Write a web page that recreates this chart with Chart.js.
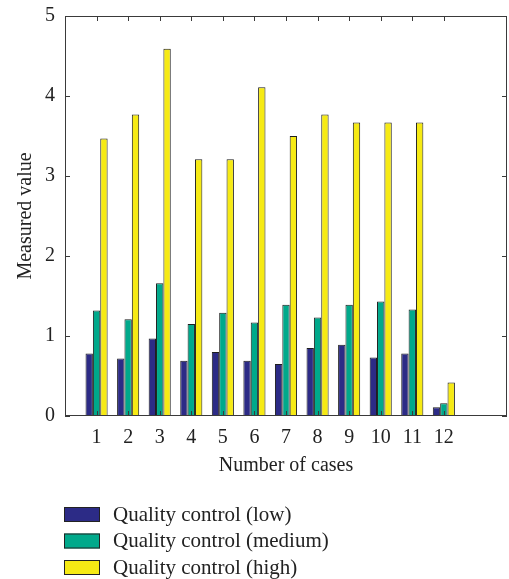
<!DOCTYPE html>
<html>
<head>
<meta charset="utf-8">
<script src="https://cdn.jsdelivr.net/npm/chart.js@4/dist/chart.umd.min.js"></script>
<style>
  html, body { margin: 0; padding: 0; background: #fff; }
  #wrap { width: 509px; height: 579px; position: relative; }
</style>
</head>
<body>
<div id="wrap"><canvas id="qcChart"></canvas></div>
<script>
// Data
const caseNumbers = [1, 2, 3, 4, 5, 6, 7, 8, 9, 10, 11, 12];
const qcLow = [0.78, 0.72, 0.97, 0.69, 0.80, 0.69, 0.65, 0.85, 0.89, 0.73, 0.78, 0.11];
const qcMedium = [1.32, 1.21, 1.66, 1.15, 1.29, 1.17, 1.39, 1.23, 1.39, 1.43, 1.33, 0.16];
const qcHigh = [3.47, 3.77, 4.59, 3.21, 3.21, 4.11, 3.50, 3.77, 3.67, 3.67, 3.67, 0.42];
const yTicks = [0, 1, 2, 3, 4, 5];
const seriesLabels = ['Quality control (low)', 'Quality control (medium)', 'Quality control (high)'];
const seriesColors = ['#2c2b86', '#00a98b', '#f6ea14'];

const FONT = '"Liberation Serif", "Times New Roman", serif';
const AXIS = '#3a3a3a';

function toPoints(values) {
    return caseNumbers.map((c, i) => ({ x: c, y: values[i] }));
}

// Box round the axes and inward tick marks, like MATLAB
const boxTicks = {
    id: 'boxTicks',
    afterDatasetsDraw(chart) {
        const { ctx, chartArea: a, scales: { x, y } } = chart;
        ctx.save();
        ctx.strokeStyle = AXIS;
        ctx.lineWidth = 1;
        ctx.strokeRect(a.left + 0.5, a.top + 0.5, a.right - a.left - 1, a.bottom - a.top - 1);
        ctx.beginPath();
        caseNumbers.forEach(c => {
            const px = Math.round(x.getPixelForValue(c)) + 0.5;
            ctx.moveTo(px, a.top); ctx.lineTo(px, a.top + 5);
            ctx.moveTo(px, a.bottom); ctx.lineTo(px, a.bottom - 5);
        });
        yTicks.forEach(v => {
            const py = Math.round(y.getPixelForValue(v)) + 0.5;
            ctx.moveTo(a.left, py); ctx.lineTo(a.left + 5, py);
            ctx.moveTo(a.right, py); ctx.lineTo(a.right - 5, py);
        });
        ctx.stroke();
        ctx.restore();
    }
};

// Vertical legend below the axes
const stackedLegend = {
    id: 'stackedLegend',
    afterDraw(chart) {
        const ctx = chart.ctx;
        ctx.save();
        ctx.font = '21px ' + FONT;
        ctx.textBaseline = 'middle';
        chart.data.datasets.forEach((ds, i) => {
            const top = 507 + i * 26.5;
            ctx.fillStyle = ds.backgroundColor;
            ctx.fillRect(64, top, 36, 15);
            ctx.strokeStyle = '#222';
            ctx.lineWidth = 1;
            ctx.strokeRect(64.5, top + 0.5, 35, 14);
            ctx.fillStyle = '#222';
            ctx.fillText(ds.label, 113, top + 8);
        });
        ctx.restore();
    }
};

const ctx = document.getElementById('qcChart').getContext('2d');
new Chart(ctx, {
    type: 'bar',
    data: {
        datasets: [qcLow, qcMedium, qcHigh].map((vals, i) => ({
            label: seriesLabels[i],
            data: toPoints(vals),
            backgroundColor: seriesColors[i],
            borderColor: '#1e1e1e',
            borderWidth: 1,
            categoryPercentage: 0.7,
            barPercentage: 1.0
        }))
    },
    options: {
        responsive: true,
        maintainAspectRatio: false,
        animation: false,
        layout: { padding: { top: 16, right: 2, left: 10, bottom: 97 } },
        plugins: {
            legend: { display: false },
            tooltip: { enabled: false }
        },
        scales: {
            x: {
                type: 'linear',
                min: 0,
                max: 14,
                offset: false,
                grid: { display: false, drawTicks: false },
                border: { display: false },
                ticks: {
                    stepSize: 1,
                    autoSkip: false,
                    maxRotation: 0,
                    padding: 10,
                    color: '#222',
                    font: { family: FONT, size: 20 },
                    callback: v => caseNumbers.includes(v) ? String(v) : ''
                },
                title: {
                    display: true,
                    text: 'Number of cases',
                    color: '#222',
                    font: { family: FONT, size: 20 },
                    padding: { top: 4, bottom: 4 }
                },
                afterFit: s => { s.height = 66; s.paddingLeft = 0; s.paddingRight = 0; }
            },
            y: {
                min: 0,
                max: 5,
                grid: { display: false, drawTicks: false },
                border: { display: false },
                ticks: {
                    stepSize: 1,
                    padding: 10,
                    color: '#222',
                    font: { family: FONT, size: 20 }
                },
                title: {
                    display: true,
                    text: 'Measured value',
                    color: '#222',
                    font: { family: FONT, size: 20 },
                    padding: { top: 4, bottom: 4 }
                },
                afterFit: s => { s.width = 55; s.paddingTop = 0; s.paddingBottom = 0; }
            }
        }
    },
    plugins: [boxTicks, stackedLegend]
});
</script>
</body>
</html>
